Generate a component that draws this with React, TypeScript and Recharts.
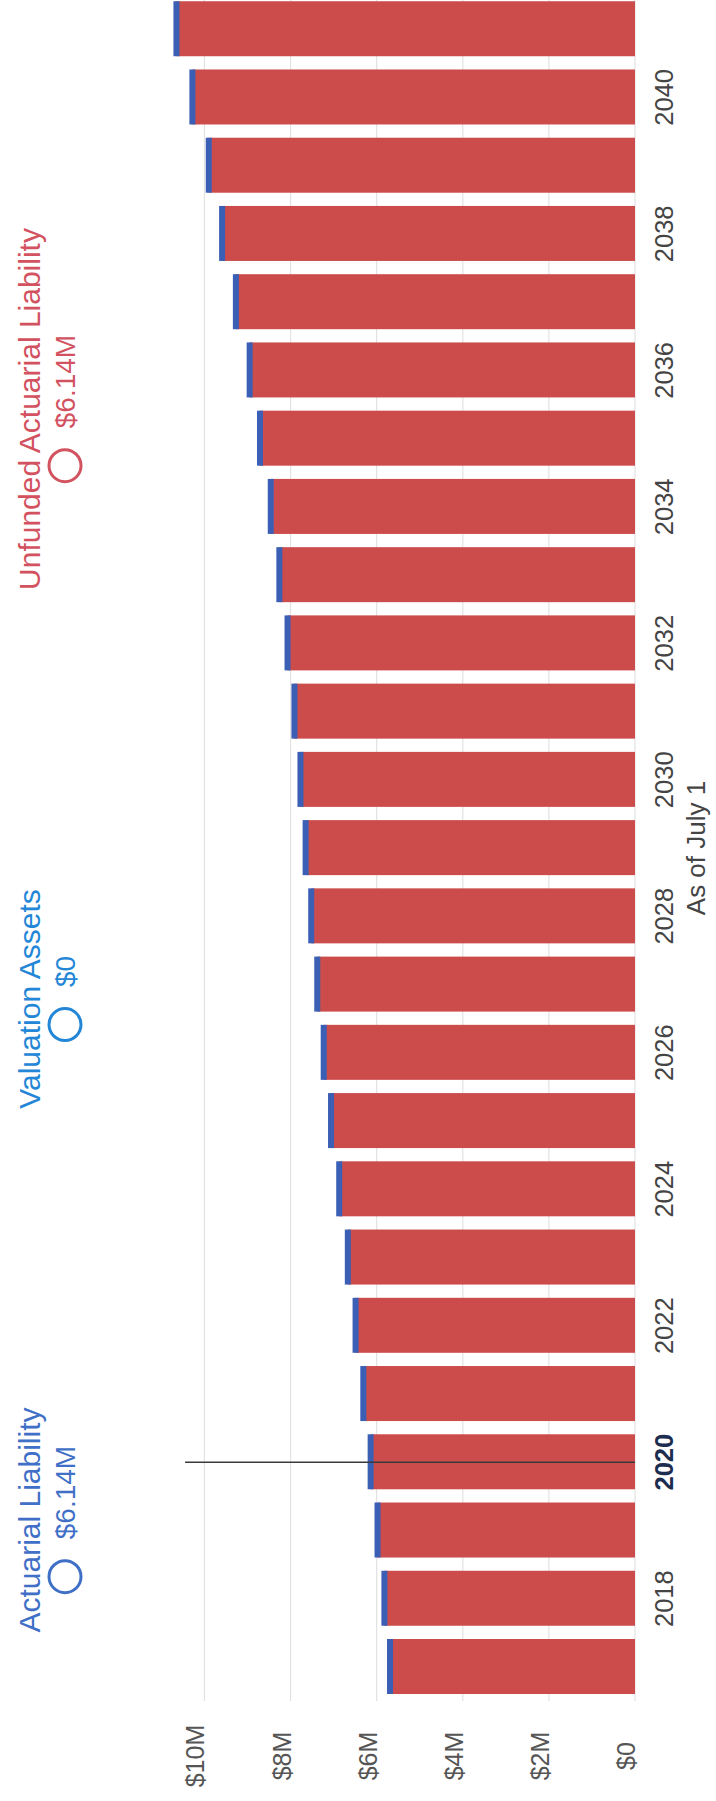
import React from 'react';
import { BarChart, Bar, XAxis, YAxis, CartesianGrid, ReferenceLine } from 'recharts';

// Projection years (as of July 1)
const years = [
  '2017', '2018', '2019', '2020', '2021', '2022', '2023', '2024', '2025',
  '2026', '2027', '2028', '2029', '2030', '2031', '2032', '2033', '2034',
  '2035', '2036', '2037', '2038', '2039', '2040', '2041',
];

// Actuarial liability, $ millions
const actuarialLiability = [
  5.69, 5.82, 5.98, 6.14, 6.31, 6.49, 6.67, 6.87, 7.06,
  7.23, 7.38, 7.52, 7.65, 7.77, 7.91, 8.07, 8.26, 8.46,
  8.71, 8.95, 9.27, 9.59, 9.9, 10.28, 10.65,
];

// Valuation assets, $ millions
const valuationAssets = [
  0, 0, 0, 0, 0, 0, 0, 0, 0,
  0, 0, 0, 0, 0, 0, 0, 0, 0,
  0, 0, 0, 0, 0, 0, 0,
];

const valueTicks = [0, 2, 4, 6, 8, 10];
const selectedYear = '2020';

const data = years.map((year, i) => ({
  year,
  assets: valuationAssets[i],
  unfunded: actuarialLiability[i] - valuationAssets[i],
  liability: actuarialLiability[i],
}));

const FONT = "'Liberation Sans', Arial, Helvetica, sans-serif";
const BAR_RED = '#cc4c4c';
const CAP_BLUE = '#3a5fb5';
const LIAB_BLUE = '#3f6fc6';
const ASSET_BLUE = '#2386d6';
const UNFUNDED_RED = '#d2525f';

// The chart is laid out landscape and then turned a quarter turn counter-clockwise.
const CHART_W = 1806;
const CHART_H = 716;
const PAGE_H = 1801;

const fmtMoney = (v: number) => (v === 0 ? '$0' : `$${v.toFixed(2)}M`);
const fmtTick = (v: number) => (v === 0 ? '$0' : `$${v}M`);

function textWidth(s: string, font: string): number {
  try {
    const ctx = document.createElement('canvas').getContext('2d');
    if (ctx) {
      ctx.font = font;
      return ctx.measureText(s).width;
    }
  } catch (e) {
    /* fall through */
  }
  return s.length * 16;
}

const selIdx = years.indexOf(selectedYear);
const legendItems = [
  { label: 'Actuarial Liability', value: fmtMoney(actuarialLiability[selIdx]), color: LIAB_BLUE, cx: 281 },
  { label: 'Valuation Assets', value: fmtMoney(valuationAssets[selIdx]), color: ASSET_BLUE, cx: 802 },
  {
    label: 'Unfunded Actuarial Liability',
    value: fmtMoney(actuarialLiability[selIdx] - valuationAssets[selIdx]),
    color: UNFUNDED_RED,
    cx: 1392,
  },
];

const LiabilityBar = (props: any) => {
  const { x, y, width, height } = props;
  if (!height || height <= 0) return null;
  return (
    <g>
      <rect x={x} y={y} width={width} height={height} fill={BAR_RED} />
      <rect x={x} y={y - 3} width={width} height={6} fill={CAP_BLUE} />
    </g>
  );
};

const YearTick = (props: any) => {
  const { x, y, payload } = props;
  const yr = Number(payload.value);
  if (yr % 2 === 1) return null;
  const sel = payload.value === selectedYear;
  return (
    <text
      x={x}
      y={y + 38}
      textAnchor="middle"
      fontSize={25.5}
      fontFamily={FONT}
      fontWeight={sel ? 700 : 400}
      fill={sel ? '#1d2d50' : '#444444'}
    >
      {payload.value}
    </text>
  );
};

const ValueTick = (props: any) => {
  const { x, y, payload } = props;
  return (
    <text x={x - 55} y={y} textAnchor="middle" fontSize={25} fontFamily={FONT} fill="#555555">
      {fmtTick(payload.value)}
    </text>
  );
};

const AxisTitle = (props: any) => {
  const vb = props.viewBox || {};
  return (
    <text
      x={vb.x + vb.width / 2}
      y={vb.y + 70}
      textAnchor="middle"
      fontSize={26}
      fontFamily={FONT}
      fill="#444444"
    >
      As of July 1
    </text>
  );
};

const Legend = () => (
  <svg width={CHART_W} height={100} style={{ position: 'absolute', left: 0, top: 0 }}>
    {legendItems.map((it) => {
      const r = 16;
      const gap = 20;
      const valFont = `28px ${FONT}`;
      const w = textWidth(it.value, valFont);
      const groupW = 2 * r + 3 + gap + w;
      const start = it.cx - groupW / 2;
      return (
        <g key={it.label}>
          <text x={it.cx} y={40} textAnchor="middle" fontSize={30} fontFamily={FONT} fill={it.color}>
            {it.label}
          </text>
          <circle cx={start + r + 1.5} cy={65} r={r} fill="none" stroke={it.color} strokeWidth={3} />
          <text x={start + 2 * r + 3 + gap} y={75} fontSize={28} fontFamily={FONT} fill={it.color}>
            {it.value}
          </text>
        </g>
      );
    })}
  </svg>
);

export default function App() {
  return (
    <div
      style={{
        position: 'absolute',
        left: 0,
        top: 0,
        width: 716,
        height: PAGE_H,
        overflow: 'hidden',
        background: '#ffffff',
      }}
    >
      <div
        style={{
          position: 'absolute',
          left: 0,
          top: 0,
          width: CHART_W,
          height: CHART_H,
          transformOrigin: '0 0',
          transform: `translate(0px, ${PAGE_H}px) rotate(-90deg)`,
        }}
      >
        <BarChart
          width={CHART_W}
          height={CHART_H}
          data={data}
          margin={{ top: 170, right: 0, bottom: 0, left: 0 }}
          barSize={55}
        >
          <CartesianGrid vertical={false} horizontalValues={valueTicks} stroke="#e2e2e2" strokeWidth={1.2} />
          <XAxis
            dataKey="year"
            interval={0}
            height={81}
            tickLine={false}
            axisLine={false}
            tickSize={0}
            tickMargin={0}
            tick={<YearTick />}
            label={<AxisTitle />}
          />
          <YAxis
            width={100}
            domain={[0, 10.8]}
            ticks={valueTicks}
            tickLine={false}
            axisLine={false}
            tickSize={0}
            tickMargin={0}
            tick={<ValueTick />}
          />
          <Bar dataKey="assets" stackId="a" fill={CAP_BLUE} isAnimationActive={false} />
          <Bar dataKey="unfunded" stackId="a" shape={<LiabilityBar />} isAnimationActive={false} />
          <ReferenceLine
            segment={[
              { x: selectedYear, y: 0 },
              { x: selectedYear, y: 10.45 },
            ]}
            stroke="#3a3a3a"
            strokeWidth={1.5}
          />
        </BarChart>
        <Legend />
      </div>
    </div>
  );
}
